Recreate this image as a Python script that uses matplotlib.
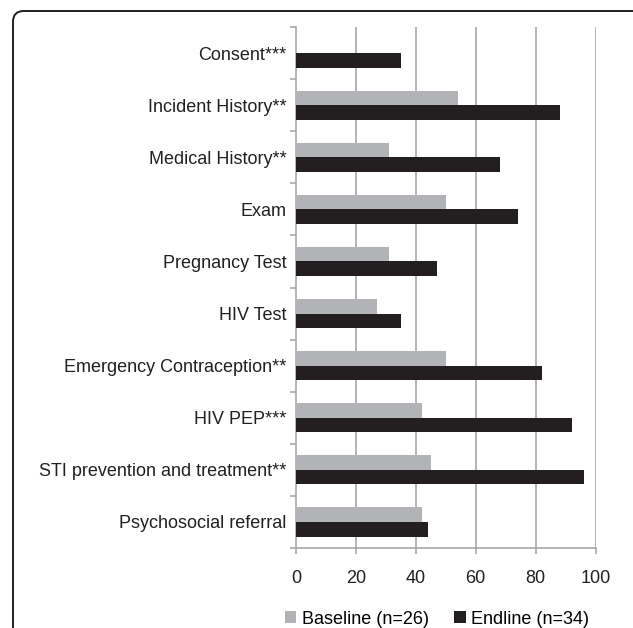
import matplotlib
matplotlib.use("Agg")
import matplotlib.pyplot as plt
from matplotlib.patches import FancyBboxPatch, Patch
import numpy as np

categories = ["Consent***", "Incident History**", "Medical History**", "Exam",
              "Pregnancy Test", "HIV Test", "Emergency Contraception**",
              "HIV PEP***", "STI prevention and treatment**", "Psychosocial referral"]
baseline = [0, 54, 31, 50, 31, 27, 50, 42, 45, 42]
endline = [35, 88, 68, 74, 47, 35, 82, 92, 96, 44]
series_labels = ["Baseline (n=26)", "Endline (n=34)"]
x_ticks = [0, 20, 40, 60, 80, 100]

GRAY = "#b2b3b6"
BLACK = "#231f20"
AXIS = "#a8a8a8"

plt.rcParams["font.family"] = ["Liberation Sans", "DejaVu Sans"]
W, H = 633, 628
fig = plt.figure(figsize=(W / 100, H / 100), dpi=100)

# rounded frame
frame = FancyBboxPatch((13 / W, 1 - 640 / H), (645 - 13) / W, (640 - 11) / H,
                       boxstyle="round,pad=0,rounding_size=0.017",
                       transform=fig.transFigure, fill=False,
                       edgecolor="#231f20", linewidth=1.4, clip_on=False)
fig.patches.append(frame)

ax = fig.add_axes([296 / W, 1 - 548 / H, (595.5 - 296) / W, (548 - 27) / H])
y = np.arange(len(categories))
h = 0.28
ax.barh(y - h / 2, baseline, height=h, color=GRAY, label=series_labels[0], zorder=3)
ax.barh(y + h / 2, endline, height=h, color=BLACK, label=series_labels[1], zorder=3)

ax.set_ylim(len(categories) - 0.5, -0.5)
ax.set_xlim(0, 100)
ax.set_xticks(x_ticks)
ax.set_xticklabels([str(t) for t in x_ticks], fontsize=13)
ax.set_yticks(y)
ax.set_yticklabels(categories, fontsize=13)
ax.set_yticks(np.arange(len(categories) + 1) - 0.5, minor=True)
ax.tick_params(axis="y", which="major", length=0, pad=7, colors="#231f20")
ax.tick_params(axis="y", which="minor", length=4, width=1.2, color=AXIS)
ax.tick_params(axis="x", which="major", length=4, width=1.2, color=AXIS, pad=12,
               labelcolor="#231f20")

for s in ["top", "right"]:
    ax.spines[s].set_visible(False)
for s in ["left", "bottom"]:
    ax.spines[s].set_color(AXIS)
    ax.spines[s].set_linewidth(1.2)

ax.xaxis.grid(True, color=AXIS, linewidth=1.2, zorder=0)
ax.set_axisbelow(True)
for gl in ax.get_xgridlines()[:1]:
    gl.set_visible(False)

handles = [Patch(facecolor=GRAY, edgecolor="none"), Patch(facecolor=BLACK, edgecolor="none")]
fig.legend(handles, series_labels, loc="center", bbox_to_anchor=(437 / W, 1 - 619 / H),
           ncol=2, frameon=False, fontsize=13, handlelength=0.65, handleheight=0.65,
           handletextpad=0.3, columnspacing=1.4, borderpad=0)

fig.savefig("out.png", dpi=100)
